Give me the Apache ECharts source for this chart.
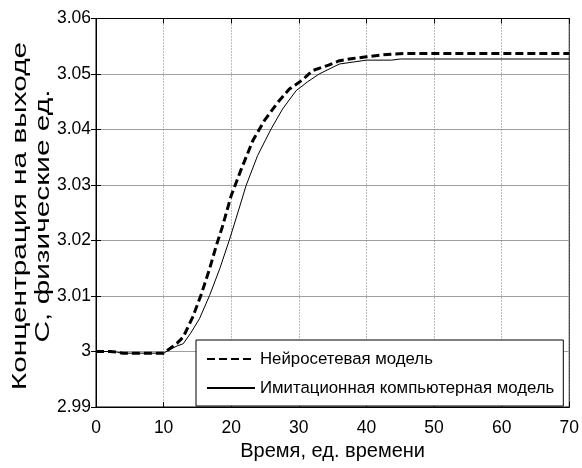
<!DOCTYPE html>
<html>
<head>
<meta charset="utf-8">
<script src="https://cdn.jsdelivr.net/npm/echarts@6/dist/echarts.min.js"></script>
<style>
html,body{margin:0;padding:0;background:#fff;}
#chart{width:582px;height:468px;}
</style>
</head>
<body>
<div id="chart"></div>
<script>
// ---- data ----
var seriesNames = ['Нейросетевая модель', 'Имитационная компьютерная модель'];
var nnX = [0, 2, 3, 4, 6, 8, 10, 11, 12, 12.9, 14.3, 15.6, 16.8, 17.8, 18.7, 20, 21.5, 23.2, 24.9, 26.9, 28.6, 30.5, 32, 34.4, 36, 38, 40, 42, 44, 46, 70];
var nnY = [3.0000, 3.0000, 2.9999, 2.9997, 2.9997, 2.9997, 2.9997, 3.0006, 3.0015, 3.0026, 3.0062, 3.0104, 3.0149, 3.0191, 3.0225, 3.0281, 3.0329, 3.0380, 3.0416, 3.0449, 3.0473, 3.0489, 3.0506, 3.0516, 3.0524, 3.0528, 3.0531, 3.0534, 3.0536, 3.0537, 3.0537];
var simX = [0, 2, 3, 4, 6, 8, 10, 11, 12, 12.9, 14, 15.3, 16.8, 18.3, 19.7, 20.7, 22.2, 23.9, 25.9, 27.6, 29.6, 31.3, 33, 36, 40, 43.7, 45, 70];
var simY = [3.0000, 3.0000, 2.9999, 2.9997, 2.9997, 2.9997, 2.9997, 3.0004, 3.0010, 3.0014, 3.0033, 3.0059, 3.0101, 3.0149, 3.0200, 3.0239, 3.0299, 3.0353, 3.0401, 3.0437, 3.0470, 3.0486, 3.0500, 3.0518, 3.0525, 3.0525, 3.0527, 3.0527];
var xTitle = 'Время, ед. времени';
var yTitle = 'Концентрация на выходе\nС, физические ед.';
var xMin = 0, xMax = 70, xStep = 10;
var yMin = 2.99, yMax = 3.06, yStep = 0.01;

var FONT = '"Liberation Sans", Arial, sans-serif';

function pairs(xs, ys) { return xs.map(function (x, i) { return [x, ys[i]]; }); }

var chart = echarts.init(document.getElementById('chart'), null, {renderer: 'canvas'});
var axisLine = {show: true, lineStyle: {color: '#000', width: 1}};
var tick = {show: true, inside: true, length: 5, lineStyle: {color: '#000'}};
var option = {
  backgroundColor: '#fff',
  animation: false,
  grid: {left: 96, right: 10.5, top: 18.5, bottom: 61, show: true, borderColor: '#000', borderWidth: 1, backgroundColor: 'transparent'},
  legend: {
    show: true,
    left: 196, top: 340,
    orient: 'vertical',
    itemWidth: 48, itemHeight: 14, itemGap: 9,
    padding: [9, 9, 8, 10],
    backgroundColor: '#fff',
    borderColor: '#000', borderWidth: 1, borderRadius: 0,
    itemStyle: {opacity: 0, borderWidth: 0},
    textStyle: {fontFamily: FONT, fontSize: 16.8, color: '#000', lineHeight: 20},
    data: seriesNames
  },
  graphic: [{
    type: 'text',
    x: 32, y: 216,
    rotation: Math.PI / 2,
    scaleX: 1.42,
    style: {
      text: yTitle,
      font: '21px "Liberation Sans", Arial, sans-serif',
      fill: '#000',
      align: 'center',
      verticalAlign: 'middle',
      lineHeight: 23
    }
  }],
  xAxis: [{
    type: 'value', min: xMin, max: xMax, interval: xStep, position: 'bottom',
    axisLine: axisLine, axisTick: tick,
    axisLabel: {fontFamily: FONT, fontSize: 17.5, color: '#000', margin: 12},
    splitLine: {show: true, lineStyle: {color: '#777', type: [1, 2], width: 1}},
    name: xTitle, nameLocation: 'middle', nameGap: 33,
    nameTextStyle: {fontFamily: FONT, fontSize: 20, color: '#000'}
  }, {
    type: 'value', min: xMin, max: xMax, interval: xStep, position: 'top',
    axisLine: axisLine, axisTick: tick, axisLabel: {show: false}, splitLine: {show: false}
  }],
  yAxis: [{
    type: 'value', min: yMin, max: yMax, interval: yStep, position: 'left',
    axisLine: axisLine, axisTick: tick,
    axisLabel: {fontFamily: FONT, fontSize: 17.5, color: '#000', margin: 5,
      formatter: function (v) { return String(+(+v).toFixed(2)); }},
    splitLine: {show: true, lineStyle: {color: '#a0a0a0', width: 1}}
  }, {
    type: 'value', min: yMin, max: yMax, interval: yStep, position: 'right',
    axisLine: axisLine, axisTick: tick, axisLabel: {show: false}, splitLine: {show: false}
  }],
  series: [{
    name: seriesNames[0], type: 'line', symbol: 'none', smooth: false,
    data: pairs(nnX, nnY), z: 3,
    lineStyle: {color: '#000', width: 3, type: [8, 4]},
    itemStyle: {color: '#000'}
  }, {
    name: seriesNames[1], type: 'line', symbol: 'none', smooth: false,
    data: pairs(simX, simY), z: 2,
    lineStyle: {color: '#000', width: 1},
    itemStyle: {color: '#000'}
  }]
};
chart.setOption(option);
</script>
</body>
</html>
